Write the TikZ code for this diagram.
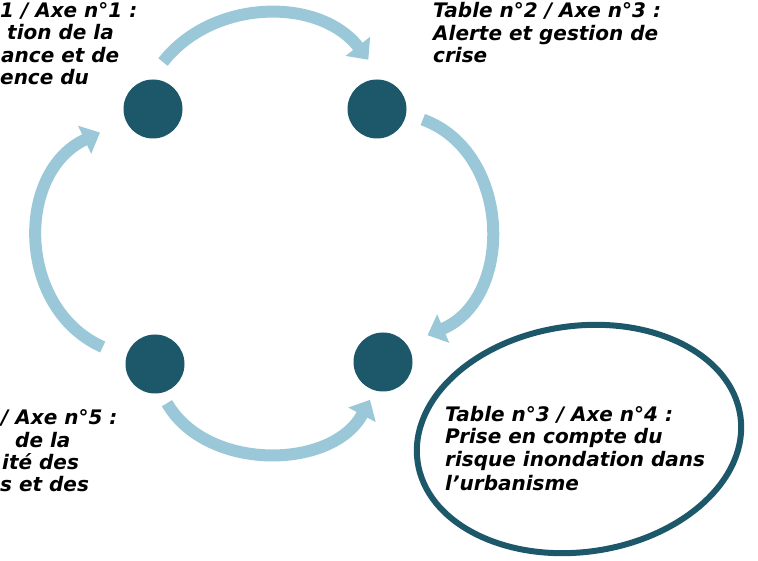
\documentclass[tikz,border=0pt]{standalone}
\usepackage{fontspec}
\setmainfont{DejaVu Sans}
\usepackage{tikz}
\usetikzlibrary{arrows.meta,positioning,shapes.geometric,calc}

\definecolor{tableteal}{RGB}{28,88,106}
\definecolor{flowblue}{RGB}{155,200,216}

\begin{document}
\begin{tikzpicture}[x=1pt, y=1pt,
  every node/.style={font=\fontsize{20}{23}\selectfont\bfseries\itshape},
  table/.style={circle, fill=tableteal, minimum size=59pt, inner sep=0pt},
  line/.style={anchor=base west, inner sep=0pt},
  flow/.style={draw=flowblue, line width=12pt,
    -{Triangle[length=17pt, width=30pt]}}]
  \useasboundingbox (0,0) rectangle (758,560);

  % les quatre tables
  \node[table] (c1) at (153,451) {};
  \node[table] (c2) at (377,451) {};
  \node[table] (c3) at (155,196) {};
  \node[table] (c4) at (383,198) {};

  % fleches du cycle
  \draw[flow] ($(c1)+(78:48)$) to[out=52, in=128] ($(c2)+(100:50)$);
  \draw[flow] ($(c2)+(-13:47)$) to[out=-20, in=23, looseness=1.12] ($(c4)+(31:52)$);
  \draw[flow] ($(c3)+(-73:41)$) to[out=-60, in=-118] ($(c4)+(-109:40)$);
  \draw[flow] ($(c3)+(162:55)$) to[out=156, in=205, looseness=1.12] ($(c1)+(204:58)$);

  % table 1 (coupee)
  \node[line] (t1a) at (0,542) {1 / Axe n°1 :};
  \node[line] (t1b) at (7,520) {tion de la};
  \node[line] (t1c) at (1,497) {ance et de};
  \node[line] (t1d) at (0,475) {ence du};

  % table 2
  \node[line] (t2a) at (433,542) {Table n°2 / Axe n°3 :};
  \node[line] (t2b) at (433,519) {Alerte et gestion de};
  \node[line] (t2c) at (433,497) {crise};

  % table 4 (coupee)
  \node[line] (t4a) at (1,135) {/ Axe n°5 :};
  \node[line] (t4b) at (15,112) {de la};
  \node[line] (t4c) at (2,90) {ité des};
  \node[line] (t4d) at (0,68) {s et des};

  % table 3, entouree
  \node[draw=tableteal, line width=6pt, ellipse, minimum width=326pt,
    minimum height=226pt, rotate=8] (focus) at (579,121) {};
  \node[line] (t3a) at (445,138) {Table n°3 / Axe n°4 :};
  \node[line] (t3b) at (445,116) {Prise en compte du};
  \node[line] (t3c) at (445,93) {risque inondation dans};
  \node[line] (t3d) at (445,70) {l’urbanisme};
\end{tikzpicture}
\end{document}
